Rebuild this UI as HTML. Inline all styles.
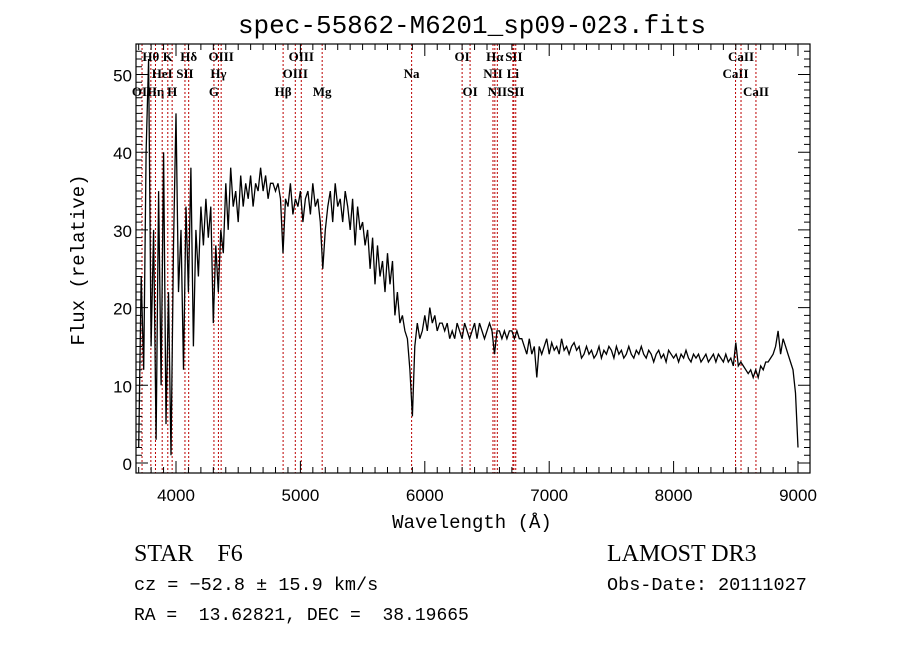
<!DOCTYPE html>
<html><head><meta charset="utf-8"><style>
body{margin:0;background:#fff;}
svg{display:block;}
.mono{font-family:"Liberation Mono",monospace;}
.serif{font-family:"Liberation Serif",serif;}
</style></head><body>
<svg id="chart" width="900" height="649" xmlns="http://www.w3.org/2000/svg">
<rect width="900" height="649" fill="#fff"/>
<text x="472" y="33" text-anchor="middle" class="mono" font-size="26">spec-55862-M6201_sp09-023.fits</text>
<g id="lines"></g>
<g id="spec"></g>
<g id="axes"></g>
<text x="472" y="528" text-anchor="middle" class="mono" font-size="19">Wavelength (Å)</text>
<text transform="translate(84,260) rotate(-90)" text-anchor="middle" class="mono" font-size="19">Flux (relative)</text>
<text x="134" y="561" class="serif" font-size="24" xml:space="preserve">STAR    F6</text>
<text x="607" y="561" class="serif" font-size="24">LAMOST DR3</text>
<text x="134" y="590" class="mono" font-size="18.5">cz = −52.8 ± 15.9 km/s</text>
<text x="607" y="590" class="mono" font-size="18.5">Obs-Date: 20111027</text>
<text x="134" y="620" class="mono" font-size="18" xml:space="preserve">RA =  13.62821, DEC =  38.19665</text>
</svg>
<script>
const waveStart = 3700, waveStep = 20;
const flux = [2,24,12,40,52,15,30,3,35,10,40,5,22,1,28,45,22,30,12,33,22,38,15,30,24,33,28,34,29,33,18,28,22,30,27,36,30,38,33,35,31,37,33,36,34,37,33,36,35,38,35,37,34,36,36,35,36,34,27,34,33,36,32,34,33,35,31,34,35,32,36,33,34,31,25,30,33,35,31,36,33,34,31,35,33,30,34,28,33,30,31,28,30,25,29,23,28,24,26,22,27,23,26,19,22,18,19,17,16,12,6,15,18,16,17,19,17,20,18,19,17,18,18,17,18,16,17,16,18,17,16,18,17,16,17,18,16,18,17,16,17,18,17,14,17,17,16,17,16,17,17,16,17,16,16,15,14,16,14,15,11,15,14,15,16,14,15.5,14.5,15,14,16,14.5,15,14,15,15.5,14.5,15,13.5,14,15,14,14.5,13.5,14,15,13.5,14.5,14,15,14.5,13.5,15,14,14.5,13.5,14,15,14,13.5,14.5,14,15,14,13.5,14.5,14,13,14,14.5,13.5,14,13,14.5,14,13.5,14,13,14,13.5,14.5,13.5,13,14,13.5,14,13,13.5,14,13,13.5,14,13,14,13.5,13,14,13,13.5,12.5,15.5,12.5,13,12.5,12,11.5,12,11,12,11,12.5,12,13,13,13.5,14,15,17,14,16,15,14,13,12,9,2];
const lineWaves = [3727,3798,3835,3889,3934,3969,4072,4102,4305,4341,4363,4861,4959,5007,5175,5894,6300,6364,6548,6563,6583,6708,6716,6731,8498,8542,8662];
const lineNames = ["OII","Hθ","Hη","HeI","K","H","SII","Hδ","G","Hγ","OIII","Hβ","OIII","OIII","Mg","Na","OI","OI","NII","Hα","NII","Li","SII","SII","CaII","CaII","CaII"];
const lineRows = [3,1,3,2,1,3,2,1,3,2,1,3,2,1,3,2,1,3,2,1,3,2,1,3,2,1,3];
const xTicks = [4000,5000,6000,7000,8000,9000];
const yTicks = [0,10,20,30,40,50];

const L=136,R=810,T=44,B=473;
const X=w=>176+(w-4000)*0.1244;
const Y=f=>463-f*7.77;
const NS="http://www.w3.org/2000/svg";
function mk(tag,parent,attrs){const e=document.createElementNS(NS,tag);for(const k in attrs)e.setAttribute(k,attrs[k]);parent.appendChild(e);return e;}

const lg=document.getElementById('lines');
const rowY={1:61,2:78,3:96};
lineWaves.forEach((w,i)=>{
  const l=mk('line',lg,{x1:X(w),x2:X(w),y1:T,y2:B,stroke:'#b00',"stroke-width":1,"stroke-dasharray":"2,2"});
  
  
  const t=mk('text',lg,{x:X(w),y:rowY[lineRows[i]],"text-anchor":"middle","font-family":"Liberation Serif, serif","font-size":13,"font-weight":"bold"});
  t.textContent=lineNames[i];
  
  
});

const sg=document.getElementById('spec');
let d='';
flux.forEach((f,i)=>{const w=waveStart+i*waveStep;let y=Math.max(T,Math.min(B,Y(f)));d+=(i?'L':'M')+X(w).toFixed(1)+','+y.toFixed(1);});
const p=mk('path',sg,{d:d,fill:'none',stroke:'#000',"stroke-width":1.3,"stroke-linejoin":"miter"});



const ag=document.getElementById('axes');
const box=mk('rect',ag,{x:L,y:T,width:R-L,height:B-T,fill:'none',stroke:'#000',"stroke-width":1.2});


let td='';
for(let w=3700;w<=9096;w+=100){const x=X(w);if(x<L||x>R)continue;const len=(w%1000===0)?12:6;td+=`M${x},${B}v${-len}M${x},${T}v${len}`;}
for(let f=0;f<=53;f++){const y=Y(f);if(y<T||y>B)continue;const len=(f%10===0)?12:6;td+=`M${L},${y}h${len}M${R},${y}h${-len}`;}
const tk=mk('path',ag,{d:td,stroke:'#000',"stroke-width":1,fill:'none'});


xTicks.forEach(w=>{const t=mk('text',ag,{x:X(w),y:501,"text-anchor":"middle","font-family":"Liberation Sans, sans-serif","font-size":17});t.textContent=w;
  
  });
yTicks.forEach(f=>{const t=mk('text',ag,{x:132,y:Y(f)+7,"text-anchor":"end","font-family":"Liberation Sans, sans-serif","font-size":17});t.textContent=f;
  
  });
</script>
</body></html>
